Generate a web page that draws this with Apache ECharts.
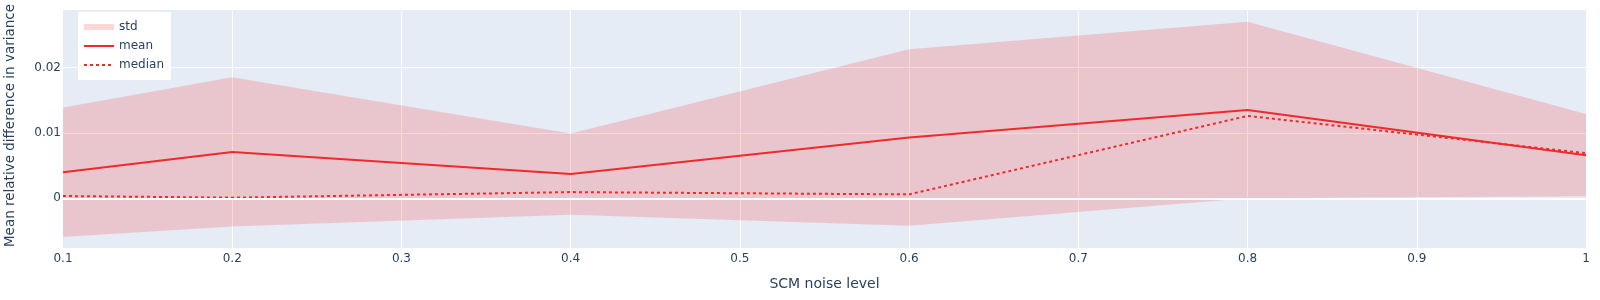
<!DOCTYPE html>
<html>
<head>
<meta charset="utf-8">
<script src="https://cdn.jsdelivr.net/npm/echarts@6/dist/echarts.min.js"></script>
<style>
html,body{margin:0;padding:0;background:#fff;}
#chart{width:1600px;height:300px;}
</style>
</head>
<body>
<div id="chart"></div>
<script>
const noiseLevels = [0.1, 0.2, 0.4, 0.6, 0.8, 1.0];
const meanValues = [0.0040, 0.0071, 0.0037, 0.0093, 0.0135, 0.0066];
const medianValues = [0.00035, 0.0001, 0.00095, 0.0006, 0.0126, 0.0069];
const stdValues = [0.0099, 0.0114, 0.0062, 0.0135, 0.0135, 0.0063];
const yTickValues = [0, 0.01, 0.02];

const font = '"DejaVu Sans", Verdana, sans-serif';
const textColor = '#2a3f5f';
const lineColor = '#ef2a2a';
const bandColor = 'rgba(255,0,0,0.16)';

const bandData = noiseLevels.map((x, i) => [x, meanValues[i] - stdValues[i], meanValues[i] + stdValues[i]]);
const meanData = noiseLevels.map((x, i) => [x, meanValues[i]]);
const medianData = noiseLevels.map((x, i) => [x, medianValues[i]]);

function renderBand(params, api) {
  if (params.dataIndex !== 0) return null;
  const lower = bandData.map(d => api.coord([d[0], d[1]]));
  const upper = bandData.map(d => api.coord([d[0], d[2]])).reverse();
  return {
    type: 'polygon',
    shape: {points: lower.concat(upper)},
    style: {fill: bandColor, stroke: null}
  };
}

const chart = echarts.init(document.getElementById('chart'), null, {renderer: 'canvas'});
chart.setOption({
  animation: false,
  backgroundColor: '#ffffff',
  textStyle: {fontFamily: font},
  grid: {
    left: 63, right: 14, top: 10, bottom: 52,
    containLabel: false,
    outerBoundsMode: 'none',
    show: true, backgroundColor: '#E5ECF6', borderWidth: 0
  },
  legend: {
    left: 78, top: 12,
    orient: 'vertical',
    backgroundColor: '#ffffff',
    padding: [8, 7, 8, 5],
    itemWidth: 30, itemHeight: 6, itemGap: 5,
    selectedMode: false,
    textStyle: {fontFamily: font, fontSize: 12, color: textColor, lineHeight: 14},
    data: [
      {name: 'std', icon: 'rect', itemStyle: {color: bandColor}},
      {name: 'mean', itemStyle: {opacity: 0}},
      {name: 'median', itemStyle: {opacity: 0}}
    ]
  },
  xAxis: {
    type: 'value',
    min: 0.1, max: 1, interval: 0.1,
    name: 'SCM noise level',
    nameLocation: 'middle',
    nameGap: 29,
    nameTextStyle: {fontFamily: font, fontSize: 14, color: textColor},
    axisLine: {show: false},
    axisTick: {show: false},
    axisLabel: {fontFamily: font, fontSize: 12, color: textColor, margin: 5,
      formatter: v => String(Math.round(v * 10) / 10)},
    splitLine: {show: true, showMinLine: false, showMaxLine: false, lineStyle: {color: '#ffffff', width: 1}}
  },
  yAxis: {
    type: 'value',
    min: -0.0076, max: 0.0288,
    name: 'Mean relative difference in variance',
    nameLocation: 'middle',
    nameGap: 46,
    nameTextStyle: {fontFamily: font, fontSize: 13.5, color: textColor, padding: [0, 0, 0, 7]},
    axisLine: {show: false},
    axisTick: {show: false, customValues: yTickValues},
    axisLabel: {fontFamily: font, fontSize: 12, color: textColor, margin: 2,
      customValues: yTickValues,
      formatter: v => String(Math.round(v * 100) / 100)},
    splitLine: {show: true, lineStyle: {color: '#ffffff', width: 1}}
  },
  series: [
    {
      name: 'zero', type: 'line', data: [], z: 1, silent: true,
      markLine: {
        silent: true, symbol: 'none', label: {show: false},
        lineStyle: {color: '#ffffff', width: 2, type: 'solid'},
        data: [{yAxis: 0}]
      }
    },
    {
      name: 'std', type: 'custom', data: bandData, silent: true,
      renderItem: renderBand, clip: true,
      encode: {x: 0, y: [1, 2]},
      itemStyle: {color: bandColor}, z: 2
    },
    {
      name: 'mean', type: 'line', data: meanData, symbol: 'none',
      lineStyle: {color: lineColor, width: 2}, itemStyle: {color: lineColor}, z: 3
    },
    {
      name: 'median', type: 'line', data: medianData, symbol: 'none',
      lineStyle: {color: lineColor, width: 2, type: [3, 3]}, itemStyle: {color: lineColor}, z: 3
    }
  ]
});
</script>
</body>
</html>
